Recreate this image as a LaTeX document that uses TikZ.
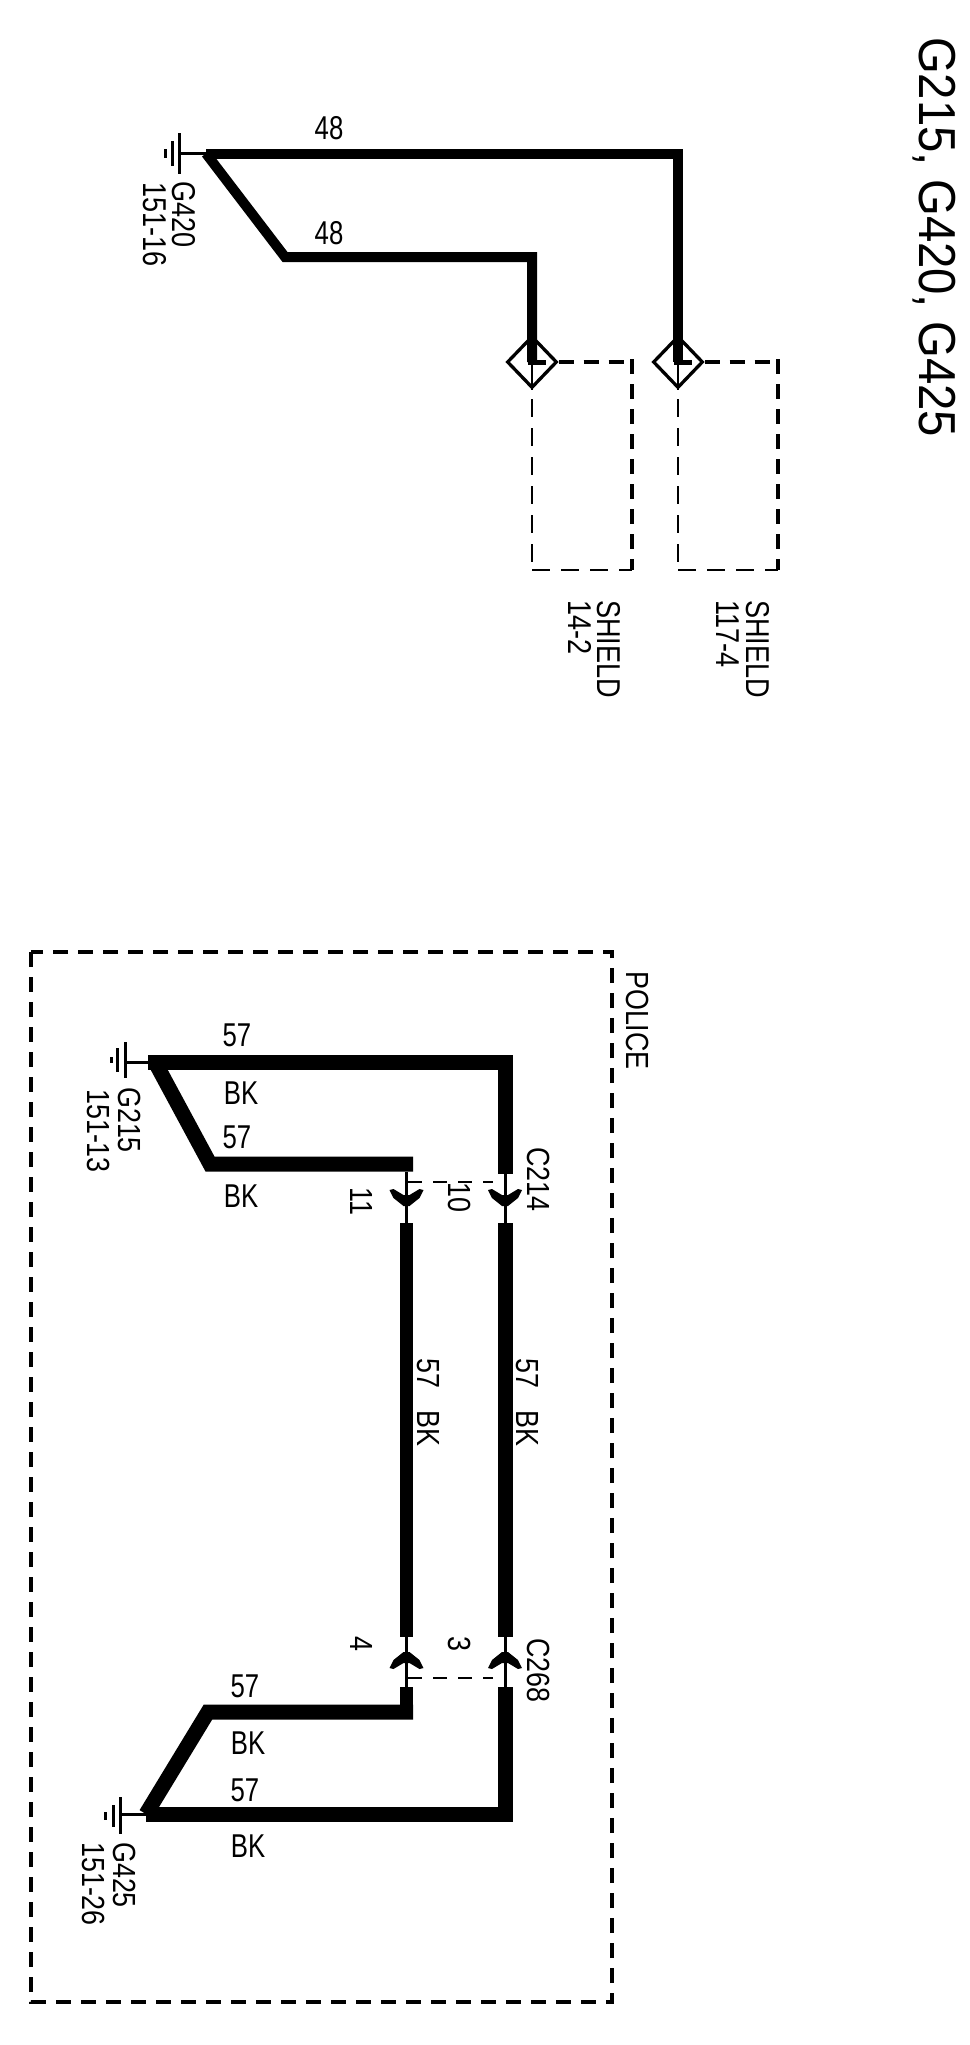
\documentclass[tikz,border=0pt]{standalone}
\usepackage{fontspec}
\setmainfont{Liberation Sans}
\usetikzlibrary{shapes.geometric}
\tikzset{
  wiretop/.style={line width=10pt},
  wirelow/.style={line width=15pt},
  wirelowb/.style={line width=13pt},
  stub/.style={line width=3pt},
  gndbar/.style={line width=3pt},
  shieldthick/.style={line width=4pt, dash pattern=on 15pt off 10pt},
  shieldthin/.style={line width=2pt, dash pattern=on 18pt off 11pt},
  linkdash/.style={line width=2.2pt, dash pattern=on 14pt off 11pt},
  boxdash/.style={line width=4pt, dash pattern=on 15pt off 10pt},
  shieldmark/.style={diamond, draw, line width=3.3pt, minimum width=50pt, minimum height=52pt, inner sep=0pt},
  lab/.style={inner sep=0pt, font=\fontsize{33}{33}\selectfont, xscale=.78},
  labup/.style={inner sep=0pt, anchor=west, rotate=-90, font=\fontsize{33}{33}\selectfont, xscale=.82},
  labdn/.style={inner sep=0pt, anchor=west, rotate=-90, font=\fontsize{32}{32}\selectfont, xscale=.84},
  labttl/.style={inner sep=0pt, anchor=west, rotate=-90, font=\fontsize{52}{52}\selectfont, xscale=.91}
}
\begin{document}
\begin{tikzpicture}[x=1pt,y=-1pt]
  \useasboundingbox (0,0) rectangle (969,2045);
  \node[labttl] (title) at (934,37) {G215, G420, G425};
  % G420 part
  \coordinate (g420) at (206,153.5);
  \coordinate (g420a) at (179,153.5);
  \coordinate (w48a) at (678,153.5);
  \coordinate (w48b) at (285,257);
  \coordinate (w48c) at (532,257);
  \node[shieldmark] (sh14) at (532,362) {};
  \node[shieldmark] (sh117) at (678,362) {};
  \coordinate (sh14r) at (632,362);
  \coordinate (sh14b) at (632,569.5);
  \coordinate (sh14l) at (532,569.5);
  \coordinate (sh14t) at (532,399);
  \coordinate (sh117r) at (778,362);
  \coordinate (sh117b) at (778,569.5);
  \coordinate (sh117l) at (678,569.5);
  \coordinate (sh117t) at (678,399);
  \draw[stub] (g420a) -- (g420);
  \draw[gndbar] (179,133) -- (179,174);
  \draw[gndbar] (172,141) -- (172,166);
  \draw[gndbar] (165,149) -- (165,158);
  \draw[wiretop] (g420) -- (w48a) -- (sh117.center);
  \draw[wiretop] (g420) -- (w48b) -- (w48c) -- (sh14.center);
  \draw[line width=5pt] (528,362) -- +(18,0);
  \draw[line width=5pt] (674,362) -- +(18,0);
  \draw[line width=2pt] (sh14.center) -- (sh14.south);
  \draw[line width=2pt] (sh117.center) -- (sh117.south);
  \draw[shieldthick] (sh14.east) -- (sh14r);
  \draw[shieldthick] (sh14r) ++(0,-3) -- (sh14b);
  \draw[shieldthick] (sh117.east) -- (sh117r);
  \draw[shieldthick] (sh117r) ++(0,-3) -- (sh117b);
  \draw[shieldthin] (sh14t) -- (sh14l);
  \draw[shieldthin] (sh14l) -- (sh14b);
  \draw[shieldthin] (sh117t) -- (sh117l);
  \draw[shieldthin] (sh117l) -- (sh117b);
  \node[lab] (n48a) at (329,128) {48};
  \node[lab] (n48b) at (329,233) {48};
  \node[labup] (tg420) at (184,181) {G420};
  \node[labup] (pg420) at (155,182) {151-16};
  \node[labup] (tsh14) at (609,600) {SHIELD};
  \node[labup] (psh14) at (580,600) {14-2};
  \node[labup] (tsh117) at (758,600) {SHIELD};
  \node[labup] (psh117) at (728,600) {117-4};
  % police part
  \node[labdn] (police) at (638,971) {POLICE};
  \draw[boxdash] (31,952) rectangle (612,2002);
  \coordinate (g215) at (148,1062);
  \coordinate (g215a) at (125,1062);
  \coordinate (a1) at (505,1062);
  \coordinate (a2) at (505,1174);
  \coordinate (b1) at (210,1164);
  \coordinate (b2) at (413,1164);
  \coordinate (b3) at (406.5,1172);
  \coordinate (c214r) at (505,1206);
  \coordinate (c214l) at (406.5,1206);
  \coordinate (c214rb) at (505,1223);
  \coordinate (c214lb) at (406.5,1223);
  \coordinate (c268r) at (505,1652);
  \coordinate (c268l) at (406.5,1652);
  \coordinate (c268ra) at (505,1637);
  \coordinate (c268la) at (406.5,1637);
  \coordinate (c268rb) at (505,1687);
  \coordinate (c268lb) at (406.5,1687);
  \coordinate (d1) at (208,1712);
  \coordinate (d2) at (406.5,1712);
  \coordinate (d3) at (413,1712);
  \coordinate (g425) at (146,1814);
  \coordinate (g425a) at (120,1814);
  \coordinate (e1) at (505,1814);
  \draw[stub] (g215a) -- (g215);
  \draw[gndbar] (125,1042) -- (125,1078);
  \draw[gndbar] (117,1048) -- (117,1072);
  \draw[gndbar] (111,1057) -- (111,1063);
  \draw[wirelow] (g215) -- (a1) -- (a2);
  \draw[wirelow] (g215) ++(7,0) -- (b1) -- (b2);
  \draw[wirelowb] (c214lb) -- (c268la);
  \draw[wirelow] (c214rb) -- (c268ra);
  \draw[stub] (b3) -- (c214lb);
  \draw[stub] (a2) -- (c214rb);
  \draw[stub] (c268la) -- (c268lb);
  \draw[stub] (c268ra) -- (c268rb);
  \foreach \plg in {c214l,c214r}
    \fill[shift={(\plg)}] (-17,-16) -- (-13,-17) -- (-3,-11) -- (3,-11) -- (13,-17) -- (17,-16)
      -- (13,-8) -- (3,0) -- (-3,0) -- (-13,-8) -- cycle;
  \foreach \plg in {c268l,c268r}
    \fill[shift={(\plg)}] (-17,16) -- (-13,17) -- (-3,11) -- (3,11) -- (13,17) -- (17,16)
      -- (13,8) -- (3,0) -- (-3,0) -- (-13,8) -- cycle;
  \draw[linkdash] (408,1182) -- (493,1182);
  \draw[linkdash] (408,1678) -- (493,1678);
  \draw[wirelowb] (c268lb) -- (d2);
  \draw[wirelow] (d3) -- (d1) -- (g425);
  \draw[wirelow] (g425) -- (e1) -- (c268rb);
  \draw[stub] (g425a) -- (g425);
  \draw[gndbar] (120,1797) -- (120,1834);
  \draw[gndbar] (113,1805) -- (113,1827);
  \draw[gndbar] (105,1812) -- (105,1820);
  \node[lab] (n57a) at (237,1035) {57};
  \node[lab] (bka) at (241,1093) {BK};
  \node[lab] (n57b) at (237,1137) {57};
  \node[lab] (bkb) at (241,1196) {BK};
  \node[lab] (n57c) at (245,1686) {57};
  \node[lab] (bkc) at (248,1743) {BK};
  \node[lab] (n57d) at (245,1790) {57};
  \node[lab] (bkd) at (248,1846) {BK};
  \node[labdn] (p11) at (362,1187) {11};
  \node[labdn] (p10) at (460,1182) {10};
  \node[labdn] (p4) at (362,1636) {4};
  \node[labdn] (p3) at (460,1636) {3};
  \node[labdn] (tc214) at (539,1147) {C214};
  \node[labdn] (tc268) at (539,1638) {C268};
  \node[labdn] (tg215) at (130,1087) {G215};
  \node[labdn] (pg215) at (99,1089) {151-13};
  \node[labdn] (tg425) at (125,1842) {G425};
  \node[labdn] (pg425) at (94,1842) {151-26};
  \node[labdn] (wl) at (428,1358) {57\hspace{27pt}BK};
  \node[labdn] (wr) at (527,1358) {57\hspace{27pt}BK};
\end{tikzpicture}
\end{document}
